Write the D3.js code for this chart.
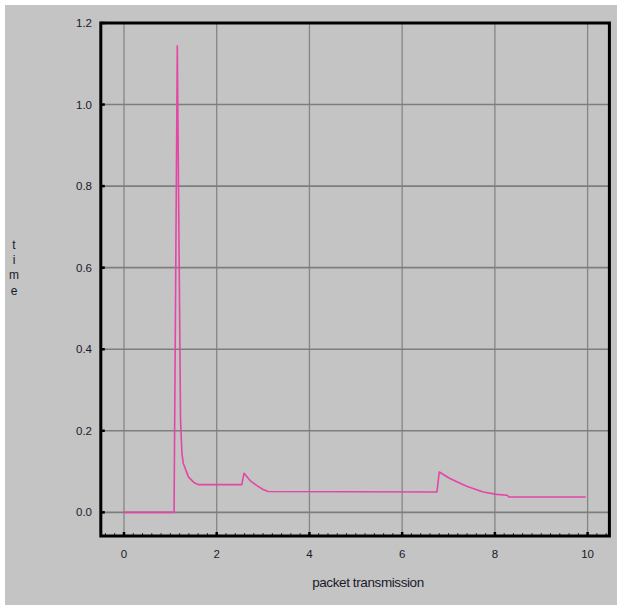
<!DOCTYPE html>
<html>
<head>
<meta charset="utf-8">
<script src="https://cdn.jsdelivr.net/npm/d3@7"></script>
<style>
  html, body { margin: 0; padding: 0; background: #ffffff; }
  svg { display: block; }
</style>
</head>
<body>
<svg id="chart" width="617" height="605"></svg>
<script>
// ---- data ----
const xValues = [0, 1.08, 1.15, 1.22, 1.25, 1.28, 1.39, 1.50, 1.60, 2.54, 2.59, 2.72, 2.86, 3.00, 3.11, 6.75, 6.80, 7.03, 7.39, 7.75, 8.04, 8.26, 8.31, 9.96];
const yValues = [0, 0, 1.144, 0.226, 0.144, 0.12, 0.087, 0.074, 0.068, 0.068, 0.096, 0.078, 0.066, 0.056, 0.051, 0.05, 0.099, 0.083, 0.064, 0.05, 0.044, 0.042, 0.0375, 0.0375];
const xTicks = [0, 2, 4, 6, 8, 10];
const yTicks = [0, 0.2, 0.4, 0.6, 0.8, 1.0, 1.2];
const xLabel = "packet transmission";
const yLabel = "time";

const svg = d3.select("#chart");
const W = 617, H = 605;

// background
svg.append("rect").attr("x", 5).attr("y", 5).attr("width", W - 5).attr("height", H - 5).attr("fill", "#c4c4c4");

const x = d3.scaleLinear().domain([-0.5, 10.47]).range([100.8, 609.4]);
const y = d3.scaleLinear().domain([-0.058, 1.2]).range([536, 23]);

const L = x(-0.5), R = x(10.47), T = y(1.2), B = y(-0.058);

// grid
const grid = svg.append("g");
grid.selectAll("line.v").data(xTicks).join("line")
  .attr("x1", d => x(d)).attr("x2", d => x(d)).attr("y1", T).attr("y2", B)
  .attr("stroke", "#858585").attr("stroke-width", 1.3);
grid.selectAll("line.h").data(yTicks).join("line")
  .attr("x1", L).attr("x2", R).attr("y1", d => y(d)).attr("y2", d => y(d))
  .attr("stroke", "#7e7e7e").attr("stroke-width", 1.6);

// minor ticks on bottom axis
const minor = d3.range(-0.4, 10.45, 0.2).filter(v => Math.abs(v / 2 - Math.round(v / 2)) > 0.01);
svg.append("g").selectAll("line").data(minor).join("line")
  .attr("x1", d => x(d)).attr("x2", d => x(d)).attr("y1", B).attr("y2", B - 3)
  .attr("stroke", "#333").attr("stroke-width", 1);
// major ticks
svg.append("g").selectAll("line").data(xTicks).join("line")
  .attr("x1", d => x(d)).attr("x2", d => x(d)).attr("y1", B).attr("y2", B - 4)
  .attr("stroke", "#000").attr("stroke-width", 2.5);
svg.append("g").selectAll("line").data(yTicks).join("line")
  .attr("x1", L).attr("x2", L + 4).attr("y1", d => y(d)).attr("y2", d => y(d))
  .attr("stroke", "#000").attr("stroke-width", 2.5);

// data line
const line = d3.line().x(d => x(d[0])).y(d => y(d[1]));
svg.append("path")
  .datum(xValues.map((v, i) => [v, yValues[i]]))
  .attr("d", line)
  .attr("fill", "none").attr("stroke", "#e446a6").attr("stroke-width", 1.6)
  .attr("stroke-linejoin", "round");

// frame
svg.append("rect").attr("x", L).attr("y", T).attr("width", R - L).attr("height", B - T)
  .attr("fill", "none").attr("stroke", "#000").attr("stroke-width", 3);

// tick labels
svg.append("g").selectAll("text").data(xTicks).join("text")
  .attr("x", d => x(d)).attr("y", 558)
  .attr("text-anchor", "middle")
  .attr("font-family", "Liberation Sans, Arial, sans-serif").attr("font-size", 11.5)
  .attr("fill", "#1a1a2a")
  .text(d => d);
svg.append("g").selectAll("text").data(yTicks).join("text")
  .attr("x", 92).attr("y", d => y(d) + 4)
  .attr("text-anchor", "end")
  .attr("font-family", "Liberation Sans, Arial, sans-serif").attr("font-size", 11.5)
  .attr("fill", "#1a1a2a")
  .text(d => d.toFixed(1));

// axis titles
svg.append("text")
  .attr("x", 368).attr("y", 587)
  .attr("text-anchor", "middle")
  .attr("font-family", "Liberation Sans, Arial, sans-serif").attr("font-size", 13.5)
  .attr("letter-spacing", -0.4)
  .attr("fill", "#1a1a2a")
  .text(xLabel);

svg.append("g").selectAll("text").data(yLabel.split("")).join("text")
  .attr("x", 14).attr("y", (d, i) => 249 + i * 15.2)
  .attr("text-anchor", "middle")
  .attr("font-family", "Liberation Sans, Arial, sans-serif").attr("font-size", 12)
  .attr("fill", "#1a1a2a")
  .text(d => d);
</script>
</body>
</html>
